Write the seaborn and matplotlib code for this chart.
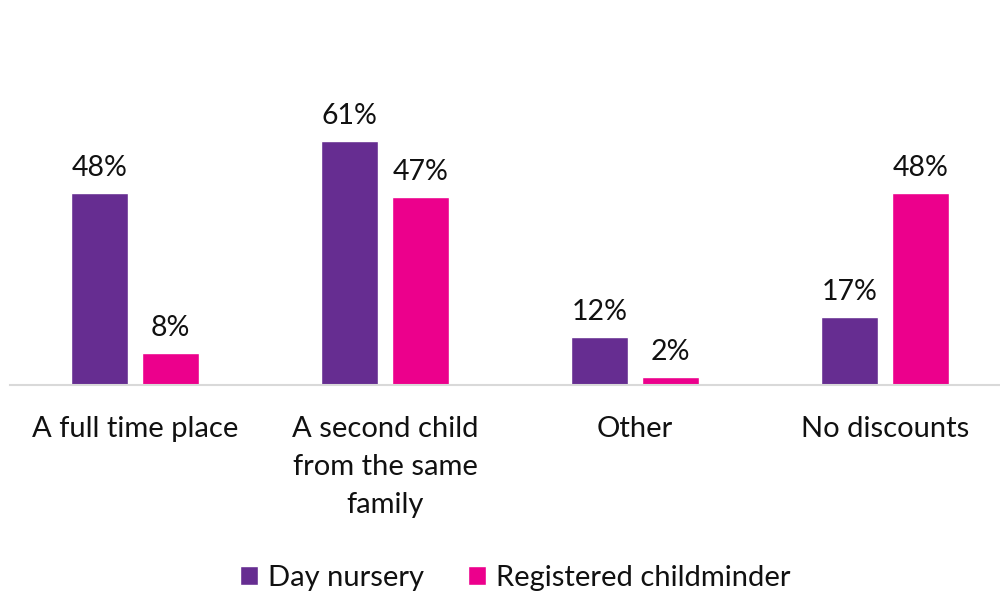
import matplotlib
matplotlib.use("Agg")
import matplotlib.pyplot as plt
import seaborn as sns
import pandas as pd
from matplotlib.patches import Patch

categories = ["A full time place", "A second child\nfrom the same\nfamily", "Other", "No discounts"]
series_names = ["Day nursery", "Registered childminder"]
day_nursery = [48, 61, 12, 17]
childminder = [8, 47, 2, 48]
colors = ["#662D91", "#EC008C"]

df = pd.DataFrame({
    "category": categories * 2,
    "provider": [series_names[0]] * 4 + [series_names[1]] * 4,
    "value": day_nursery + childminder,
})

sns.set_theme(style="white")
plt.rcParams["font.family"] = ["Lato", "DejaVu Sans"]

fig = plt.figure(figsize=(10, 5.95), dpi=100)
ax = fig.add_axes([0.01, (595 - 385) / 595, 0.99, 280 / 595])

sns.barplot(data=df, x="category", y="value", hue="provider", order=categories,
            hue_order=series_names, palette=colors, width=0.568, gap=0.21,
            saturation=1, ax=ax, legend=False)

ax.set_xlim(-0.5, 3.46)
ax.set_ylim(0, 70)
ax.set_xlabel("")
ax.set_ylabel("")
ax.set_yticks([])
for s in ["top", "left", "right"]:
    ax.spines[s].set_visible(False)
ax.spines["bottom"].set_color("#D9D9D9")
ax.spines["bottom"].set_linewidth(1.5)
ax.tick_params(axis="x", length=0, pad=22.5, labelsize=21, colors="#111111")
for lbl in ax.get_xticklabels():
    lbl.set_linespacing(1.56)
    lbl.set_verticalalignment("top")

for cont in ax.containers:
    ax.bar_label(cont, labels=[f"{v:.0f}%" for v in cont.datavalues],
                 padding=9, fontsize=20.5, color="#111111")

handles = [Patch(facecolor=c, label=n) for c, n in zip(colors, series_names)]
fig.legend(handles=handles, loc="center", bbox_to_anchor=(0.515, (595 - 578) / 595),
           ncol=2, frameon=False, fontsize=21, handlelength=0.62, handleheight=0.62,
           handletextpad=0.35, columnspacing=1.5, labelcolor="#111111")

fig.savefig("out.png", dpi=100)
